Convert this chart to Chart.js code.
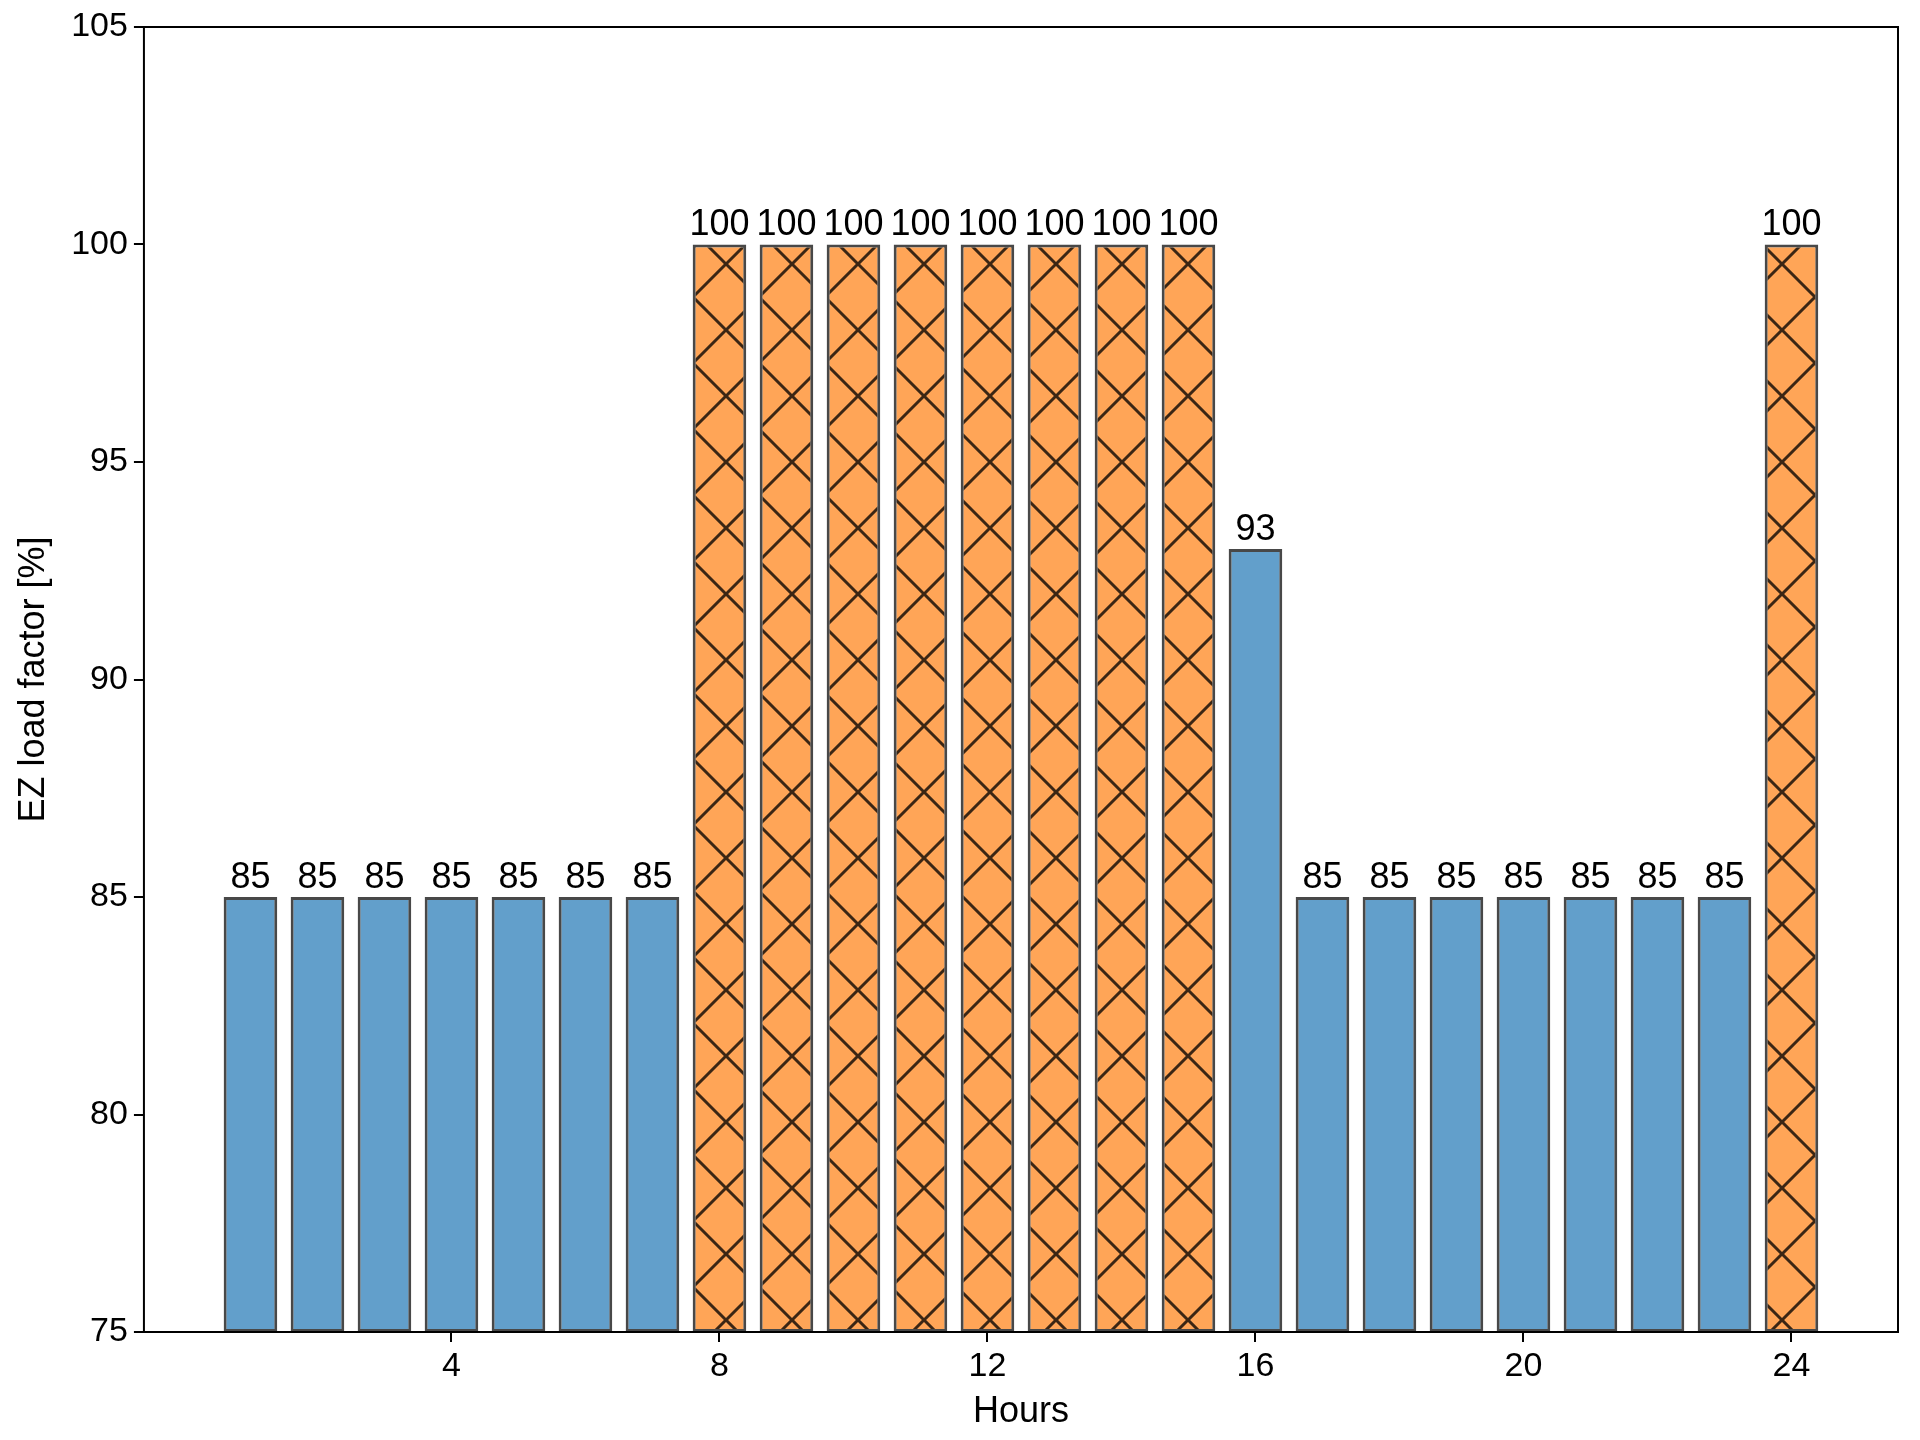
<!DOCTYPE html>
<html>
<head>
<meta charset="utf-8">
<script src="https://cdn.jsdelivr.net/npm/chart.js@4"></script>
<style>
html, body { margin: 0; padding: 0; background: #fff; }
#wrap { width: 1920px; height: 1440px; }
</style>
</head>
<body>
<div id="wrap"><canvas id="loadChart" width="1920" height="1440"></canvas></div>
<script>
// hourly load factor of the EZ
const hours = [1, 2, 3, 4, 5, 6, 7, 8, 9, 10, 11, 12, 13, 14, 15, 16, 17, 18, 19, 20, 21, 22, 23, 24];
const loadFactor = [85, 85, 85, 85, 85, 85, 85, 100, 100, 100, 100, 100, 100, 100, 100, 93, 85, 85, 85, 85, 85, 85, 85, 100];
const fullLoad = [false, false, false, false, false, false, false, true, true, true, true, true, true, true, true, false, false, false, false, false, false, false, false, true];
const xTicks = [4, 8, 12, 16, 20, 24];
const yTicks = [75, 80, 85, 90, 95, 100, 105];

function makeHatch() {
    const size = 66;
    const c = document.createElement("canvas");
    c.width = size;
    c.height = size;
    const g = c.getContext("2d");
    g.fillStyle = "#ffa557";
    g.fillRect(0, 0, size, size);
    g.strokeStyle = "#3b2614";
    g.lineWidth = 3;
    g.beginPath();
    g.moveTo(0, 0); g.lineTo(size, size);
    g.moveTo(size, 0); g.lineTo(0, size);
    g.stroke();
    return g.createPattern(c, "repeat");
}

const ctx = document.getElementById("loadChart").getContext("2d");
const hatch = makeHatch();
const font = "'Liberation Sans', Arial, sans-serif";

const frame = {
    id: "frame",
    afterDraw(chart) {
        const a = chart.chartArea;
        const c = chart.ctx;
        c.save();
        c.strokeStyle = "#000";
        c.lineWidth = 2;
        c.strokeRect(a.left, a.top, a.right - a.left, a.bottom - a.top);
        c.restore();
    }
};

const barLabels = {
    id: "barLabels",
    afterDatasetsDraw(chart) {
        const c = chart.ctx;
        const meta = chart.getDatasetMeta(0);
        c.save();
        c.font = "36px " + font;
        c.fillStyle = "#000";
        c.textAlign = "center";
        c.textBaseline = "bottom";
        meta.data.forEach((bar, i) => {
            c.fillText(String(loadFactor[i]), bar.x, bar.y - 1);
        });
        c.restore();
    }
};

new Chart(ctx, {
    type: "bar",
    data: {
        datasets: [{
            data: hours.map((h, i) => ({ x: h, y: [75, loadFactor[i]] })),
            backgroundColor: fullLoad.map(f => f ? hatch : "#629fcb"),
            borderColor: "rgba(40,40,40,0.85)",
            borderWidth: 3,
            borderSkipped: false,
            barPercentage: 0.8,
            categoryPercentage: 1.0
        }]
    },
    options: {
        responsive: false,
        animation: false,
        devicePixelRatio: 1,
        layout: { padding: { left: 8, right: 22, top: 27, bottom: 2 } },
        plugins: { legend: { display: false }, tooltip: { enabled: false } },
        scales: {
            x: {
                type: "linear",
                offset: false,
                min: -0.59,
                max: 25.59,
                afterBuildTicks(axis) { axis.ticks = xTicks.map(v => ({ value: v })); },
                grid: { offset: false, drawOnChartArea: false, drawTicks: true, tickLength: 10, color: "#000", lineWidth: 2 },
                border: { display: false },
                ticks: { color: "#000", font: { size: 34, family: font }, padding: 4, maxRotation: 0 },
                title: { display: true, text: "Hours", color: "#000", font: { size: 36, family: font }, padding: { top: 0 } }
            },
            y: {
                min: 75,
                max: 105,
                afterBuildTicks(axis) { axis.ticks = yTicks.map(v => ({ value: v })); },
                grid: { drawOnChartArea: false, drawTicks: true, tickLength: 10, color: "#000", lineWidth: 2 },
                border: { display: false },
                ticks: { color: "#000", font: { size: 34, family: font }, padding: 6 },
                title: { display: true, text: "EZ load factor [%]", color: "#000", font: { size: 36, family: font }, padding: { bottom: 10 } }
            }
        }
    },
    plugins: [frame, barLabels]
});
</script>
</body>
</html>
